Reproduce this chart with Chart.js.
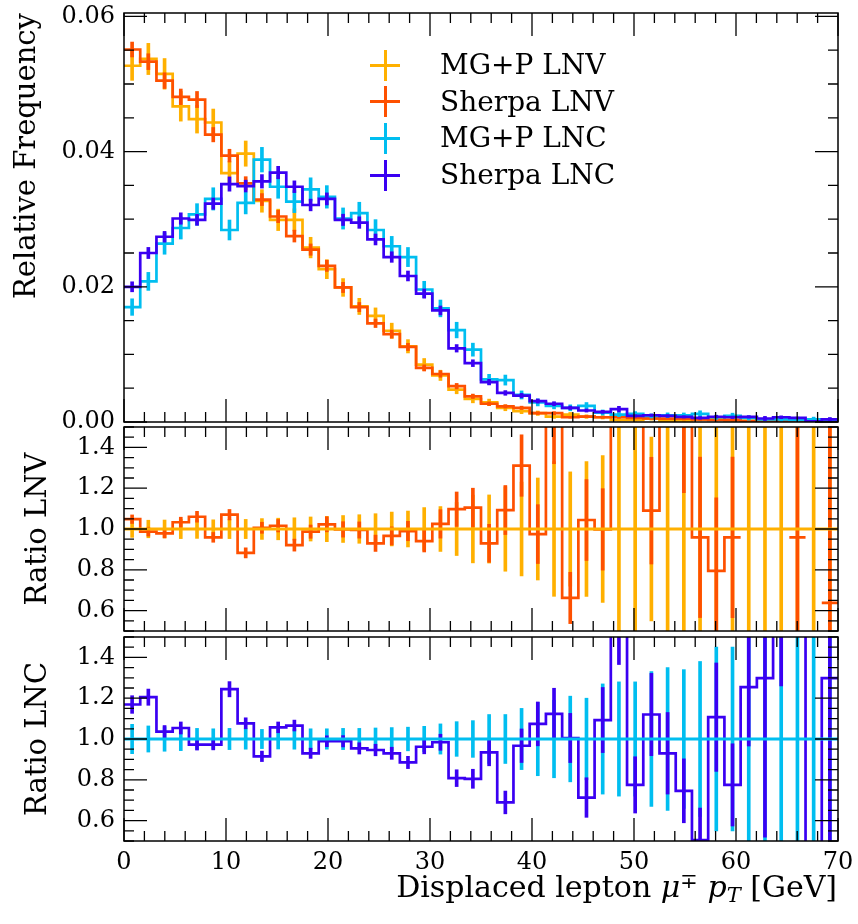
<!DOCTYPE html>
<html>
<head>
<meta charset="utf-8">
<script src="https://cdn.jsdelivr.net/npm/chart.js@4.4.1/dist/chart.umd.min.js"></script>
<style>
  body { margin: 0; background: #fff; }
  #wrap { position: relative; width: 858px; height: 924px; font-family: 'DejaVu Serif', serif; color: #000; }
  #wrap canvas { position: absolute; left: 0; }
  .legRow { position: absolute; left: 0; height: 28px; }
  .legText { position: absolute; left: 440px; top: 0; font-size: 28px; line-height: 28px; white-space: nowrap; }
  .legH { position: absolute; left: 370px; top: 12.5px; width: 30px; height: 3px; }
  .legV { position: absolute; left: 383.5px; top: -1.5px; width: 3px; height: 31px; }
  #xtitle { position: absolute; right: 21px; top: 872px; font-size: 30px; line-height: 30px; white-space: nowrap; }
  #xtitle sup, #xtitle sub { font-size: 0.7em; line-height: 0; }
  #xtitle sup { vertical-align: 0.45em; }
  #xtitle sub { vertical-align: -0.25em; font-style: italic; }
</style>
</head>
<body>
<div id="wrap">
  <canvas id="mainChart" width="858" height="440" style="top:0px"></canvas>
  <canvas id="lnvChart" width="858" height="220" style="top:420px"></canvas>
  <canvas id="lncChart" width="858" height="292" style="top:632px"></canvas>
  <div id="legend"></div>
  <div id="xtitle">Displaced lepton <i>μ</i><sup>∓</sup> <i>p</i><sub>T</sub> [GeV]</div>
</div>
<script>
const FONT = "'DejaVu Serif', serif";

// binning: 44 bins between 0 and 70 GeV
const nBins = 44;
const xLo = 0, xHi = 70;

// relative frequency per bin
const mgLnv = [0.0527, 0.0537, 0.0515, 0.0467, 0.0448, 0.0443, 0.0368, 0.0397, 0.0327, 0.0299, 0.0299, 0.0258, 0.0226, 0.0199, 0.0171, 0.0157, 0.0135, 0.0112, 0.0085, 0.0069, 0.0048, 0.0034, 0.0029, 0.0021, 0.0016, 0.0013, 0.0008, 0.0011, 0.0008, 0.0007, 0.0003, 0.0003, 0.0005, 0.0002, 0.00025, 0.0004, 0.0004, 0.0003, 0.0002, 0.0001, 0.0001, 0.0002, 0.0001, 0.0002];
const shLnv = [0.0551, 0.0533, 0.0505, 0.0481, 0.0477, 0.0425, 0.0394, 0.0353, 0.0329, 0.0304, 0.0275, 0.0255, 0.0231, 0.0199, 0.0170, 0.0146, 0.0130, 0.0111, 0.0080, 0.0071, 0.0053, 0.0038, 0.0027, 0.0023, 0.0021, 0.0013, 0.0013, 0.0007, 0.0008, 0.0007, 0.0007, 0.0006, 0.00055, 0.0005, 0.00048, 0.00038, 0.00032, 0.00029, 0.0001, 0.0001, 0.0001, 0.0002, 0.0001, 0.00013];
const mgLnc = [0.0170, 0.0208, 0.0264, 0.0287, 0.0307, 0.0330, 0.0284, 0.0324, 0.0388, 0.0348, 0.0326, 0.0344, 0.0333, 0.0301, 0.0309, 0.0284, 0.0260, 0.0244, 0.0196, 0.0168, 0.0136, 0.0107, 0.0063, 0.0062, 0.0040, 0.0029, 0.0024, 0.0021, 0.0024, 0.0014, 0.0011, 0.0012, 0.0009, 0.0010, 0.0010, 0.0012, 0.0007, 0.0009, 0.0006, 0.0004, 0.0004, 0.0003, 0.0004, 0.0003];
const shLnc = [0.0200, 0.0250, 0.0274, 0.0301, 0.0299, 0.0323, 0.0352, 0.0349, 0.0356, 0.0369, 0.0348, 0.0321, 0.0330, 0.0299, 0.0295, 0.0270, 0.0244, 0.0216, 0.0190, 0.0165, 0.0109, 0.0087, 0.0059, 0.0043, 0.0039, 0.0031, 0.0027, 0.0021, 0.0017, 0.0015, 0.0019, 0.0009, 0.0010, 0.0009, 0.00075, 0.0006, 0.00078, 0.0007, 0.00075, 0.00052, 0.0007, 0.0006, 0.0001, 0.0004];

// relative statistical errors
const relErrMgLnv = [0.041, 0.043, 0.044, 0.047, 0.046, 0.045, 0.047, 0.047, 0.051, 0.053, 0.055, 0.059, 0.062, 0.066, 0.070, 0.075, 0.083, 0.088, 0.105, 0.11, 0.13, 0.166, 0.167, 0.207, 0.23, 0.25, 0.33, 0.28, 0.33, 0.36, 0.6, 0.6, 0.45, 0.8, 0.7, 0.55, 0.6, 0.6, 0.8, 1.0, 1.0, 0.8, 1.0, 0.8];
const relErrShLnv = [0.020, 0.022, 0.023, 0.024, 0.025, 0.025, 0.024, 0.028, 0.027, 0.030, 0.032, 0.033, 0.036, 0.038, 0.040, 0.043, 0.046, 0.048, 0.057, 0.068, 0.077, 0.086, 0.10, 0.11, 0.115, 0.148, 0.175, 0.19, 0.19, 0.20, 0.2, 0.2, 0.24, 0.25, 0.38, 0.41, 0.45, 0.41, 0.5, 0.5, 0.5, 0.65, 0.7, 1.5];
const relErrMgLnc = [0.072, 0.064, 0.060, 0.057, 0.052, 0.050, 0.052, 0.050, 0.047, 0.049, 0.050, 0.050, 0.050, 0.052, 0.052, 0.054, 0.056, 0.058, 0.062, 0.074, 0.085, 0.09, 0.12, 0.12, 0.15, 0.18, 0.19, 0.21, 0.20, 0.27, 0.28, 0.28, 0.33, 0.35, 0.34, 0.38, 0.45, 0.45, 0.55, 0.7, 0.7, 0.8, 0.8, 0.9];
const relErrShLnc = [0.037, 0.033, 0.029, 0.028, 0.027, 0.026, 0.030, 0.025, 0.028, 0.025, 0.025, 0.027, 0.027, 0.028, 0.029, 0.030, 0.032, 0.034, 0.036, 0.040, 0.051, 0.058, 0.070, 0.081, 0.085, 0.10, 0.112, 0.12, 0.136, 0.146, 0.22, 0.178, 0.18, 0.215, 0.21, 0.31, 0.24, 0.26, 0.23, 0.6, 0.3, 0.2, 0.3, 0.65];

// Sherpa / MG+P ratios (null = empty bin)
const ratioLnv = [1.048, 0.987, 0.979, 1.033, 1.060, 0.959, 1.070, 0.883, 1.006, 1.016, 0.921, 0.987, 1.023, 0.998, 0.995, 0.930, 0.966, 0.990, 0.941, 1.025, 1.097, 1.105, 0.930, 1.093, 1.311, 0.975, 1.60, 0.662, 1.044, 0.998, 2.20, 2.00, 1.090, 2.50, 1.90, 0.959, 0.795, 0.959, null, null, null, 0.959, null, 0.638];
const ratioLnc = [1.169, 1.205, 1.036, 1.054, 0.972, 0.972, 1.244, 1.077, 0.915, 1.057, 1.066, 0.930, 0.989, 0.989, 0.954, 0.946, 0.930, 0.885, 0.962, 0.984, 0.808, 0.805, 0.934, 0.689, 0.967, 1.074, 1.123, 1.005, 0.713, 1.093, 1.75, 0.775, 1.120, 0.930, 0.746, 0.505, 1.107, 0.775, 1.254, 1.298, 1.80, 2.20, 0.30, 1.298];

// ticks
const xTicks = [0, 10, 20, 30, 40, 50, 60, 70];
const mainTicks = [0, 0.02, 0.04, 0.06];
const ratioTicks = [0.6, 0.8, 1.0, 1.2, 1.4];

const legendNames = ['MG+P LNV', 'Sherpa LNV', 'MG+P LNC', 'Sherpa LNC'];
const colors = ['#ffb000', '#fe5000', '#00bef0', '#3a00f2'];

const binW = (xHi - xLo) / nBins;
const edges = Array.from({ length: nBins + 1 }, (_, i) => xLo + i * binW);
const centers = edges.slice(0, -1).map(e => e + binW / 2);

// histogram outline: two points per bin, null breaks the line
function stepData(vals) {
    const pts = [];
    vals.forEach((v, i) => {
        if (v === null) { pts.push({ x: centers[i], y: null }); return; }
        pts.push({ x: edges[i], y: v }, { x: edges[i + 1], y: v });
    });
    return pts;
}

function errData(vals, rel) {
    return vals.map((v, i) => v === null ? null : { x: centers[i], y: [v - v * rel[i], v + v * rel[i]] })
               .filter(Boolean);
}

function stepSet(vals, color, order) {
    return { type: 'line', data: stepData(vals), borderColor: color, borderWidth: 2.7,
             pointRadius: 0, fill: false, spanGaps: false, tension: 0, order: order };
}

function errSet(vals, rel, color, order) {
    return { type: 'bar', data: errData(vals, rel), backgroundColor: color, borderWidth: 0,
             barThickness: 3, grouped: false, order: order };
}

function range(lo, hi, step) {
    const out = [];
    for (let i = 0; lo + i * step <= hi + 1e-9; i++) out.push(lo + i * step);
    return out;
}

// frame with inward ticks on all four sides
const framePlugin = {
    id: 'frame',
    afterDraw(chart, args, o) {
        const { ctx, chartArea: a } = chart;
        const sx = chart.scales.x, sy = chart.scales.y;
        ctx.save();
        ctx.strokeStyle = '#000';
        ctx.lineWidth = 1.3;
        ctx.beginPath();
        const vTick = (v, len) => {
            const p = sx.getPixelForValue(v);
            ctx.moveTo(p, a.bottom); ctx.lineTo(p, a.bottom - len);
            ctx.moveTo(p, a.top); ctx.lineTo(p, a.top + len);
        };
        const hTick = (v, len) => {
            const p = sy.getPixelForValue(v);
            ctx.moveTo(a.left, p); ctx.lineTo(a.left + len, p);
            ctx.moveTo(a.right, p); ctx.lineTo(a.right - len, p);
        };
        range(xLo, xHi, 2).forEach(v => vTick(v, 10));
        xTicks.forEach(v => vTick(v, 23));
        range(sy.min, sy.max, o.yMinor).forEach(v => hTick(v, 10));
        o.yMajor.forEach(v => hTick(v, 23));
        ctx.stroke();
        ctx.lineWidth = 1.5;
        ctx.strokeRect(a.left, a.top, a.right - a.left, a.bottom - a.top);
        ctx.restore();
    }
};

Chart.defaults.font.family = FONT;
Chart.defaults.color = '#000';

const xHidden = { type: 'linear', min: xLo, max: xHi, display: false, offset: false };

function yAxis(min, max, ticks, digits, title, align, titlePad) {
    return {
        type: 'linear', min: min, max: max,
        afterBuildTicks: s => { s.ticks = ticks.map(v => ({ value: v })); },
        afterFit: s => { s.width = 124; s.paddingTop = 0; s.paddingBottom = 0; },
        grid: { display: false, drawTicks: false },
        border: { display: false },
        ticks: { padding: 9, autoSkip: false, font: { size: 24 }, callback: v => Number(v).toFixed(digits) },
        title: { display: true, text: title, align: align, font: { size: 29 }, padding: { top: titlePad, bottom: 0 } }
    };
}

function baseOptions(padding, xScale, yScale, yMajor, yMinor) {
    return {
        responsive: false, animation: false, devicePixelRatio: 1, events: [],
        layout: { padding: padding },
        plugins: { legend: { display: false }, tooltip: { enabled: false }, frame: { yMajor: yMajor, yMinor: yMinor } },
        scales: { x: xScale, y: yScale }
    };
}

// 1. Main panel
const mainVals = [mgLnv, shLnv, mgLnc, shLnc];
const mainErrs = [relErrMgLnv, relErrShLnv, relErrMgLnc, relErrShLnc];
const mainSets = [];
mainVals.forEach((vals, k) => {
    const order = 3 - k;
    mainSets.push(stepSet(vals, colors[k], order));
    mainSets.push(errSet(vals, mainErrs[k], colors[k], order));
});

new Chart(document.getElementById('mainChart'), {
    type: 'line',
    data: { datasets: mainSets },
    options: baseOptions({ left: 0, right: 20, top: 13, bottom: 18 }, xHidden,
        yAxis(0, 0.0605, mainTicks, 2, 'Relative Frequency', 'end', 10), mainTicks, 0.005),
    plugins: [framePlugin]
});

// 2. Ratio panels
const ones = ratioLnv.map(() => 1);
function ratioSets(ratio, relRef, relData, refColor, dataColor) {
    return [
        { type: 'line', data: [{ x: xLo, y: 1 }, { x: xHi, y: 1 }], borderColor: refColor, borderWidth: 3,
          pointRadius: 0, fill: false, order: 0 },
        stepSet(ratio, dataColor, 1),
        errSet(ratio, relData, dataColor, 1),
        errSet(ones, relRef, refColor, 3)
    ];
}

new Chart(document.getElementById('lnvChart'), {
    type: 'line',
    data: { datasets: ratioSets(ratioLnv, relErrMgLnv, relErrShLnv, colors[0], colors[1]) },
    options: baseOptions({ left: 0, right: 20, top: 7, bottom: 9 }, xHidden,
        yAxis(0.5, 1.5, ratioTicks, 1, 'Ratio LNV', 'center', 21), ratioTicks, 0.05),
    plugins: [framePlugin]
});

const xBottom = {
    type: 'linear', min: xLo, max: xHi, offset: false,
    afterBuildTicks: s => { s.ticks = xTicks.map(v => ({ value: v })); },
    afterFit: s => { s.height = 83; s.paddingLeft = 0; s.paddingRight = 0; },
    grid: { display: false, drawTicks: false },
    border: { display: false },
    ticks: { padding: 7, autoSkip: false, maxRotation: 0, font: { size: 24 } }
};

new Chart(document.getElementById('lncChart'), {
    type: 'line',
    data: { datasets: ratioSets(ratioLnc, relErrMgLnc, relErrShLnc, colors[2], colors[3]) },
    options: baseOptions({ left: 0, right: 20, top: 5, bottom: 0 }, xBottom,
        yAxis(0.5, 1.5, ratioTicks, 1, 'Ratio LNC', 'center', 21), ratioTicks, 0.05),
    plugins: [framePlugin]
});

// 3. Legend (crosses like error-bar markers)
const legendRowsY = [65, 101.7, 138.3, 175];
document.getElementById('legend').innerHTML = legendNames.map((name, i) => `
    <div class="legRow" style="top:${legendRowsY[i] - 14}px">
        <div class="legH" style="background:${colors[i]}"></div>
        <div class="legV" style="background:${colors[i]}"></div>
        <div class="legText">${name}</div>
    </div>`).join('');
</script>
</body>
</html>
